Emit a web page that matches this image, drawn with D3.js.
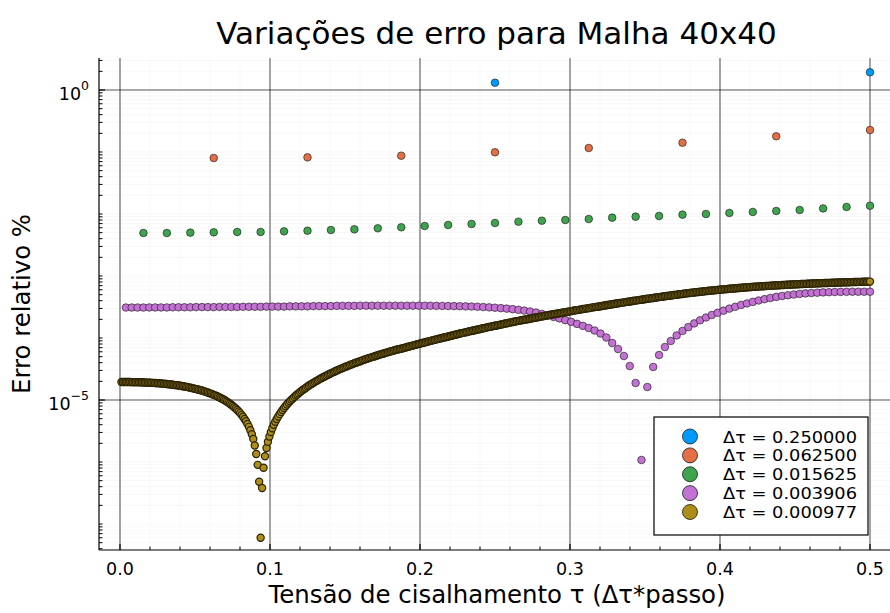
<!DOCTYPE html>
<html>
<head>
<meta charset="utf-8">
<script src="https://cdn.jsdelivr.net/npm/d3@7"></script>
<style>
  body { margin: 0; background: #fff; }
  svg { display: block; }
  text { font-family: "DejaVu Sans", sans-serif; fill: #000; }
</style>
</head>
<body>
<svg id="chart" width="890" height="613"></svg>
<script>
// ---------------- data ----------------
const titleText = "Variações de erro para Malha 40x40";
const xLabelText = "Tensão de cisalhamento τ (Δτ*passo)";
const yLabelText = "Erro relativo %";

const stepSizes = [0.25, 0.0625, 0.015625, 0.00390625, 0.0009765625];
const legendLabels = ["Δτ = 0.250000", "Δτ = 0.062500", "Δτ = 0.015625", "Δτ = 0.003906", "Δτ = 0.000977"];
const seriesColors = ["#009AFA", "#E36F47", "#3EA44E", "#C371D2", "#AC8E18"];

const xTicks = [0, 0.1, 0.2, 0.3, 0.4, 0.5];
const xTickLabels = ["0.0", "0.1", "0.2", "0.3", "0.4", "0.5"];
const yTicks = [1, 1e-5];
const yTickExponents = ["0", "−5"];

// relative error (%) for each step size; point i sits at tau = (i+1)*Δτ
const errDt1 = [1.31, 1.93];
const errDt2 = [0.0800, 0.0820, 0.0871, 0.0989, 0.116, 0.141, 0.179, 0.226];
const errDt3 = [
  0.00494, 0.00494, 0.00500, 0.00506, 0.00513, 0.00513, 0.00525, 0.00538,
  0.00552, 0.00566, 0.00588, 0.00610, 0.00640, 0.00665, 0.00690, 0.00716,
  0.00752, 0.00780, 0.00800, 0.00830, 0.00873, 0.00906, 0.00929, 0.00976,
  0.0100, 0.0104, 0.0108, 0.0112, 0.0116, 0.0123, 0.0130, 0.0136
];
const errDt4 = [
  3.10e-4, 3.10e-4, 3.10e-4, 3.10e-4, 3.11e-4, 3.11e-4, 3.11e-4, 3.11e-4, 3.13e-4, 3.13e-4, 3.13e-4, 3.13e-4, 3.15e-4, 3.15e-4, 3.15e-4, 3.15e-4,
  3.17e-4, 3.17e-4, 3.17e-4, 3.17e-4, 3.19e-4, 3.19e-4, 3.19e-4, 3.19e-4, 3.21e-4, 3.21e-4, 3.21e-4, 3.21e-4, 3.24e-4, 3.24e-4, 3.24e-4, 3.24e-4,
  3.27e-4, 3.27e-4, 3.27e-4, 3.27e-4, 3.30e-4, 3.30e-4, 3.30e-4, 3.30e-4, 3.32e-4, 3.32e-4, 3.32e-4, 3.32e-4, 3.32e-4, 3.32e-4, 3.32e-4, 3.32e-4,
  3.32e-4, 3.32e-4, 3.32e-4, 3.32e-4, 3.31e-4, 3.30e-4, 3.29e-4, 3.28e-4, 3.27e-4, 3.26e-4, 3.24e-4, 3.22e-4, 3.19e-4, 3.16e-4, 3.12e-4, 3.08e-4,
  3.03e-4, 2.98e-4, 2.92e-4, 2.85e-4, 2.77e-4, 2.68e-4, 2.57e-4, 2.44e-4, 2.31e-4, 2.19e-4, 2.07e-4, 1.94e-4, 1.82e-4, 1.69e-4, 1.57e-4, 1.45e-4,
  1.32e-4, 1.18e-4, 1.02e-4, 8.31e-5, 6.65e-5, 5.13e-5, 3.53e-5, 1.88e-5, 1.08e-6, 1.62e-5, 3.41e-5, 5.32e-5, 7.16e-5, 8.95e-5, 1.10e-4, 1.30e-4,
  1.50e-4, 1.72e-4, 1.93e-4, 2.14e-4, 2.35e-4, 2.55e-4, 2.76e-4, 2.98e-4, 3.19e-4, 3.41e-4, 3.61e-4, 3.82e-4, 4.03e-4, 4.23e-4, 4.42e-4, 4.60e-4,
  4.76e-4, 4.90e-4, 5.03e-4, 5.14e-4, 5.24e-4, 5.32e-4, 5.38e-4, 5.44e-4, 5.48e-4, 5.52e-4, 5.54e-4, 5.56e-4, 5.58e-4, 5.58e-4, 5.58e-4, 5.58e-4
];
const errDt5 = [
  1.95e-5, 1.95e-5, 1.95e-5, 1.95e-5, 1.95e-5, 1.95e-5, 1.95e-5, 1.94e-5, 1.94e-5, 1.94e-5, 1.94e-5, 1.94e-5, 1.93e-5, 1.93e-5, 1.93e-5, 1.92e-5,
  1.92e-5, 1.91e-5, 1.91e-5, 1.90e-5, 1.90e-5, 1.89e-5, 1.89e-5, 1.88e-5, 1.87e-5, 1.87e-5, 1.86e-5, 1.85e-5, 1.84e-5, 1.83e-5, 1.82e-5, 1.81e-5,
  1.80e-5, 1.79e-5, 1.78e-5, 1.76e-5, 1.75e-5, 1.74e-5, 1.73e-5, 1.71e-5, 1.70e-5, 1.68e-5, 1.67e-5, 1.65e-5, 1.63e-5, 1.62e-5, 1.60e-5, 1.58e-5,
  1.56e-5, 1.54e-5, 1.52e-5, 1.50e-5, 1.48e-5, 1.46e-5, 1.44e-5, 1.42e-5, 1.39e-5, 1.37e-5, 1.34e-5, 1.32e-5, 1.29e-5, 1.27e-5, 1.24e-5, 1.21e-5,
  1.19e-5, 1.16e-5, 1.13e-5, 1.10e-5, 1.07e-5, 1.04e-5, 1.01e-5, 9.73e-6, 9.40e-6, 9.07e-6, 8.73e-6, 8.38e-6, 8.02e-6, 7.66e-6, 7.30e-6, 6.92e-6,
  6.54e-6, 6.15e-6, 5.76e-6, 5.36e-6, 4.95e-6, 4.54e-6, 4.12e-6, 3.69e-6, 3.26e-6, 2.81e-6, 2.36e-6, 1.85e-6, 1.35e-6, 9.0e-7, 4.8e-7, 6.0e-8,
  3.80e-7, 8.09e-7, 1.24e-6, 1.68e-6, 2.13e-6, 2.58e-6, 3.04e-6, 3.51e-6, 3.98e-6, 4.45e-6, 4.93e-6, 5.42e-6, 5.92e-6, 6.42e-6, 6.92e-6, 7.44e-6,
  7.96e-6, 8.48e-6, 9.01e-6, 9.55e-6, 1.01e-5, 1.06e-5, 1.12e-5, 1.18e-5, 1.23e-5, 1.29e-5, 1.35e-5, 1.41e-5, 1.46e-5, 1.52e-5, 1.58e-5, 1.65e-5,
  1.71e-5, 1.77e-5, 1.83e-5, 1.89e-5, 1.96e-5, 2.02e-5, 2.09e-5, 2.15e-5, 2.22e-5, 2.29e-5, 2.35e-5, 2.42e-5, 2.49e-5, 2.56e-5, 2.63e-5, 2.70e-5,
  2.77e-5, 2.84e-5, 2.92e-5, 2.99e-5, 3.06e-5, 3.14e-5, 3.21e-5, 3.29e-5, 3.36e-5, 3.44e-5, 3.51e-5, 3.59e-5, 3.67e-5, 3.75e-5, 3.83e-5, 3.91e-5,
  3.99e-5, 4.07e-5, 4.15e-5, 4.23e-5, 4.32e-5, 4.40e-5, 4.49e-5, 4.57e-5, 4.66e-5, 4.74e-5, 4.83e-5, 4.92e-5, 5.00e-5, 5.09e-5, 5.18e-5, 5.27e-5,
  5.36e-5, 5.45e-5, 5.54e-5, 5.64e-5, 5.73e-5, 5.82e-5, 5.92e-5, 6.01e-5, 6.10e-5, 6.20e-5, 6.30e-5, 6.39e-5, 6.49e-5, 6.59e-5, 6.66e-5, 6.73e-5,
  6.83e-5, 6.94e-5, 7.04e-5, 7.15e-5, 7.25e-5, 7.36e-5, 7.46e-5, 7.57e-5, 7.68e-5, 7.80e-5, 7.91e-5, 8.03e-5, 8.15e-5, 8.26e-5, 8.38e-5, 8.49e-5,
  8.62e-5, 8.74e-5, 8.87e-5, 9.00e-5, 9.12e-5, 9.25e-5, 9.37e-5, 9.50e-5, 9.63e-5, 9.77e-5, 9.90e-5, 1.00e-4, 1.02e-4, 1.03e-4, 1.04e-4, 1.06e-4,
  1.07e-4, 1.09e-4, 1.10e-4, 1.12e-4, 1.13e-4, 1.15e-4, 1.16e-4, 1.18e-4, 1.19e-4, 1.21e-4, 1.22e-4, 1.24e-4, 1.25e-4, 1.27e-4, 1.29e-4, 1.30e-4,
  1.32e-4, 1.33e-4, 1.35e-4, 1.37e-4, 1.38e-4, 1.40e-4, 1.42e-4, 1.44e-4, 1.45e-4, 1.47e-4, 1.49e-4, 1.51e-4, 1.52e-4, 1.54e-4, 1.56e-4, 1.58e-4,
  1.59e-4, 1.61e-4, 1.63e-4, 1.65e-4, 1.67e-4, 1.69e-4, 1.71e-4, 1.73e-4, 1.75e-4, 1.77e-4, 1.79e-4, 1.81e-4, 1.83e-4, 1.85e-4, 1.87e-4, 1.89e-4,
  1.91e-4, 1.93e-4, 1.95e-4, 1.97e-4, 1.99e-4, 2.01e-4, 2.03e-4, 2.05e-4, 2.07e-4, 2.10e-4, 2.12e-4, 2.14e-4, 2.16e-4, 2.18e-4, 2.21e-4, 2.23e-4,
  2.25e-4, 2.28e-4, 2.30e-4, 2.32e-4, 2.35e-4, 2.37e-4, 2.39e-4, 2.41e-4, 2.44e-4, 2.46e-4, 2.49e-4, 2.51e-4, 2.54e-4, 2.56e-4, 2.59e-4, 2.61e-4,
  2.64e-4, 2.66e-4, 2.69e-4, 2.71e-4, 2.74e-4, 2.77e-4, 2.79e-4, 2.82e-4, 2.84e-4, 2.87e-4, 2.90e-4, 2.93e-4, 2.95e-4, 2.98e-4, 3.01e-4, 3.03e-4,
  3.06e-4, 3.09e-4, 3.12e-4, 3.15e-4, 3.18e-4, 3.20e-4, 3.23e-4, 3.26e-4, 3.29e-4, 3.32e-4, 3.35e-4, 3.38e-4, 3.41e-4, 3.44e-4, 3.47e-4, 3.50e-4,
  3.53e-4, 3.56e-4, 3.60e-4, 3.63e-4, 3.66e-4, 3.69e-4, 3.72e-4, 3.75e-4, 3.79e-4, 3.82e-4, 3.85e-4, 3.88e-4, 3.92e-4, 3.95e-4, 3.98e-4, 4.01e-4,
  4.05e-4, 4.08e-4, 4.12e-4, 4.15e-4, 4.19e-4, 4.22e-4, 4.25e-4, 4.29e-4, 4.32e-4, 4.36e-4, 4.39e-4, 4.43e-4, 4.46e-4, 4.50e-4, 4.53e-4, 4.57e-4,
  4.60e-4, 4.64e-4, 4.67e-4, 4.71e-4, 4.75e-4, 4.78e-4, 4.82e-4, 4.85e-4, 4.89e-4, 4.93e-4, 4.96e-4, 5.00e-4, 5.03e-4, 5.07e-4, 5.11e-4, 5.14e-4,
  5.18e-4, 5.21e-4, 5.25e-4, 5.29e-4, 5.32e-4, 5.36e-4, 5.39e-4, 5.43e-4, 5.46e-4, 5.50e-4, 5.53e-4, 5.57e-4, 5.60e-4, 5.63e-4, 5.67e-4, 5.70e-4,
  5.74e-4, 5.77e-4, 5.80e-4, 5.83e-4, 5.87e-4, 5.90e-4, 5.93e-4, 5.97e-4, 6.00e-4, 6.03e-4, 6.06e-4, 6.09e-4, 6.12e-4, 6.15e-4, 6.18e-4, 6.22e-4,
  6.25e-4, 6.28e-4, 6.30e-4, 6.33e-4, 6.36e-4, 6.39e-4, 6.42e-4, 6.45e-4, 6.48e-4, 6.51e-4, 6.53e-4, 6.56e-4, 6.59e-4, 6.62e-4, 6.64e-4, 6.67e-4,
  6.70e-4, 6.72e-4, 6.75e-4, 6.77e-4, 6.80e-4, 6.82e-4, 6.85e-4, 6.87e-4, 6.90e-4, 6.92e-4, 6.94e-4, 6.97e-4, 6.99e-4, 7.01e-4, 7.04e-4, 7.06e-4,
  7.08e-4, 7.11e-4, 7.13e-4, 7.15e-4, 7.17e-4, 7.19e-4, 7.21e-4, 7.24e-4, 7.26e-4, 7.28e-4, 7.30e-4, 7.32e-4, 7.34e-4, 7.36e-4, 7.38e-4, 7.40e-4,
  7.42e-4, 7.44e-4, 7.46e-4, 7.47e-4, 7.49e-4, 7.51e-4, 7.53e-4, 7.55e-4, 7.57e-4, 7.58e-4, 7.60e-4, 7.62e-4, 7.63e-4, 7.65e-4, 7.67e-4, 7.68e-4,
  7.70e-4, 7.72e-4, 7.73e-4, 7.75e-4, 7.76e-4, 7.78e-4, 7.80e-4, 7.81e-4, 7.83e-4, 7.84e-4, 7.85e-4, 7.87e-4, 7.88e-4, 7.90e-4, 7.91e-4, 7.93e-4,
  7.94e-4, 7.95e-4, 7.96e-4, 7.98e-4, 7.99e-4, 8.00e-4, 8.02e-4, 8.03e-4, 8.04e-4, 8.05e-4, 8.07e-4, 8.08e-4, 8.09e-4, 8.10e-4, 8.11e-4, 8.13e-4
];

const seriesValues = [errDt1, errDt2, errDt3, errDt4, errDt5];

// ---------------- layout ----------------
const plot = { left: 99, right: 891, top: 58, bottom: 550 };

const svg = d3.select("#chart");

const x = d3.scaleLinear().domain([-0.014, 0.514]).range([plot.left, plot.right]);
const y = d3.scaleLog().domain([Math.pow(10, -7.419), Math.pow(10, 0.516)]).range([plot.bottom, plot.top]);

const clipId = "plotclip";
svg.append("defs").append("clipPath").attr("id", clipId)
  .append("rect").attr("x", plot.left).attr("y", plot.top)
  .attr("width", plot.right - plot.left).attr("height", plot.bottom - plot.top);

// minor positions
const xMinor = d3.range(0, 26).filter(i => i % 5 !== 0).map(i => i * 0.02)
  .filter(v => v >= x.domain()[0] && v <= x.domain()[1]);
const yMinor = [];
for (let n = -8; n <= 0; n++) {
  for (let k = 1; k <= 9; k++) {
    const v = k * Math.pow(10, n);
    if (v < y.domain()[0] || v > y.domain()[1]) continue;
    if (yTicks.some(t => Math.abs(Math.log10(t) - Math.log10(v)) < 1e-9)) continue;
    yMinor.push(v);
  }
}

const grid = svg.append("g").attr("clip-path", `url(#${clipId})`);
grid.selectAll(".gxm").data(xMinor).join("line")
  .attr("x1", d => x(d)).attr("x2", d => x(d))
  .attr("y1", plot.top).attr("y2", plot.bottom)
  .attr("stroke", "#000").attr("stroke-opacity", 0.05).attr("stroke-width", 0.6);
grid.selectAll(".gym").data(yMinor).join("line")
  .attr("x1", plot.left).attr("x2", plot.right)
  .attr("y1", d => y(d)).attr("y2", d => y(d))
  .attr("stroke", "#000").attr("stroke-opacity", 0.06).attr("stroke-width", 0.6);
grid.selectAll(".gx").data(xTicks).join("line")
  .attr("x1", d => x(d)).attr("x2", d => x(d))
  .attr("y1", plot.top).attr("y2", plot.bottom)
  .attr("stroke", "#000").attr("stroke-opacity", 0.45).attr("stroke-width", 1.6);
grid.selectAll(".gy").data(yTicks).join("line")
  .attr("x1", plot.left).attr("x2", plot.right)
  .attr("y1", d => y(d)).attr("y2", d => y(d))
  .attr("stroke", "#000").attr("stroke-opacity", 0.45).attr("stroke-width", 1.6);

// ---------------- markers ----------------
const marks = svg.append("g").attr("clip-path", `url(#${clipId})`);
seriesValues.forEach((vals, s) => {
  const pts = vals.map((v, i) => ({ tau: (i + 1) * stepSizes[s], err: v }));
  marks.append("g").selectAll("circle").data(pts).join("circle")
    .attr("cx", d => x(d.tau)).attr("cy", d => y(d.err))
    .attr("r", s === 4 ? 3.6 : 3.8)
    .attr("fill", seriesColors[s])
    .attr("stroke", s === 4 ? "#2a2205" : "#111")
    .attr("stroke-width", s === 4 ? 1.2 : 0.6);
});

// ---------------- axes ----------------
const axes = svg.append("g");
axes.append("line").attr("x1", plot.left).attr("x2", plot.left)
  .attr("y1", plot.top).attr("y2", plot.bottom).attr("stroke", "#000").attr("stroke-width", 1.2);
axes.append("line").attr("x1", plot.left).attr("x2", plot.right)
  .attr("y1", plot.bottom).attr("y2", plot.bottom).attr("stroke", "#000").attr("stroke-width", 1.2);

axes.selectAll(".xt").data(xTicks).join("line")
  .attr("x1", d => x(d)).attr("x2", d => x(d))
  .attr("y1", plot.bottom).attr("y2", plot.bottom - 6)
  .attr("stroke", "#000").attr("stroke-width", 1.2);
axes.selectAll(".xtm").data(xMinor).join("line")
  .attr("x1", d => x(d)).attr("x2", d => x(d))
  .attr("y1", plot.bottom).attr("y2", plot.bottom - 3.5)
  .attr("stroke", "#000").attr("stroke-width", 1);
axes.selectAll(".xl").data(xTicks).join("text")
  .attr("x", d => x(d)).attr("y", 575)
  .attr("text-anchor", "middle").attr("font-size", 17.5)
  .text((d, i) => xTickLabels[i]);

axes.selectAll(".yt").data(yTicks).join("line")
  .attr("x1", plot.left).attr("x2", plot.left + 6)
  .attr("y1", d => y(d)).attr("y2", d => y(d))
  .attr("stroke", "#000").attr("stroke-width", 1.2);
axes.selectAll(".ytm").data(yMinor).join("line")
  .attr("x1", plot.left).attr("x2", plot.left + 3.5)
  .attr("y1", d => y(d)).attr("y2", d => y(d))
  .attr("stroke", "#000").attr("stroke-width", 1);
const yl = axes.selectAll(".yl").data(yTicks).join("text")
  .attr("x", 89).attr("y", d => y(d) + 10)
  .attr("text-anchor", "end");
yl.append("tspan").attr("font-size", 17.5).text("10");
yl.append("tspan").attr("font-size", 12.5).attr("dy", -10).text((d, i) => yTickExponents[i]);

// ---------------- titles ----------------
svg.append("text").attr("x", 496.5).attr("y", 44).attr("text-anchor", "middle")
  .attr("font-size", 31).text(titleText);
svg.append("text").attr("x", 497).attr("y", 603).attr("text-anchor", "middle")
  .attr("font-size", 24.4).text(xLabelText);
svg.append("text").attr("transform", "translate(30,304) rotate(-90)")
  .attr("text-anchor", "middle").attr("font-size", 24.4).text(yLabelText);

// ---------------- legend ----------------
const leg = svg.append("g");
leg.append("rect").attr("x", 654).attr("y", 417).attr("width", 214).attr("height", 118)
  .attr("fill", "#fff").attr("stroke", "#000").attr("stroke-width", 1.2);
const rowY = d3.scaleLinear().domain([0, 4]).range([436.5, 512]);
legendLabels.forEach((lab, i) => {
  leg.append("circle").attr("cx", 690).attr("cy", rowY(i)).attr("r", 7.5)
    .attr("fill", seriesColors[i]).attr("stroke", "#1a1a1a").attr("stroke-width", 0.8);
  leg.append("text").attr("x", 723).attr("y", rowY(i) + 6)
    .attr("font-size", 16).attr("textLength", 134).attr("lengthAdjust", "spacingAndGlyphs")
    .text(lab);
});
</script>
</body>
</html>
